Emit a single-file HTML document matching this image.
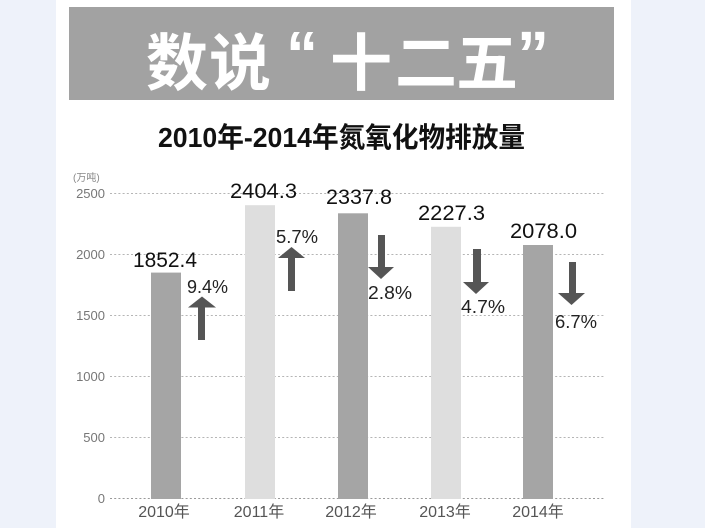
<!DOCTYPE html>
<html>
<head>
<meta charset="utf-8">
<style>
  html,body{margin:0;padding:0;background:#eef2fa;}
  svg{display:block;}
  .cjk{font-family:"Liberation Sans","Noto Sans CJK SC",sans-serif;}
</style>
</head>
<body>
<svg width="705" height="528" viewBox="0 0 705 528" xmlns="http://www.w3.org/2000/svg">
  <rect x="0" y="0" width="705" height="528" fill="#eef2fa"/>
  <rect x="56" y="0" width="575" height="528" fill="#ffffff"/>

  <!-- header -->
  <rect x="69" y="7" width="545" height="93" fill="#a2a2a2"/>
  <g fill="#ffffff" font-family="'Noto Sans CJK SC',sans-serif" font-weight="700" font-size="62" text-anchor="middle">
    <text x="177" y="85">数</text>
    <text x="240" y="85">说</text>
    <text x="361" y="85">十</text>
    <text x="426" y="85">二</text>
    <text x="487" y="85">五</text>
  </g>
  <g fill="#ffffff" font-family="'Liberation Sans',sans-serif" font-weight="700" font-size="64" text-anchor="middle">
    <text x="302" y="76">“</text>
    <text x="533" y="76">”</text>
  </g>

  <!-- subtitle -->
  <text x="158" y="147" class="cjk" font-size="28" font-weight="700" fill="#111" textLength="367" lengthAdjust="spacingAndGlyphs">2010年-2014年氮氧化物排放量</text>

  <!-- unit -->
  <text x="73" y="181" class="cjk" font-size="10" fill="#888">(万吨)</text>

  <!-- gridlines -->
  <g stroke="#b5b5b5" stroke-width="1" stroke-dasharray="2 2.2">
    <line x1="110" y1="193.5" x2="604" y2="193.5"/>
    <line x1="110" y1="254.5" x2="604" y2="254.5"/>
    <line x1="110" y1="315.5" x2="604" y2="315.5"/>
    <line x1="110" y1="376.5" x2="604" y2="376.5"/>
    <line x1="110" y1="437.5" x2="604" y2="437.5"/>
    <line x1="110" y1="498.5" x2="604" y2="498.5" stroke="#999"/>
  </g>

  <!-- y labels -->
  <g font-family="'Liberation Sans',sans-serif" font-size="13" fill="#777" text-anchor="end">
    <text x="105" y="198">2500</text>
    <text x="105" y="259">2000</text>
    <text x="105" y="320">1500</text>
    <text x="105" y="381">1000</text>
    <text x="105" y="442">500</text>
    <text x="105" y="503">0</text>
  </g>

  <!-- bars -->
  <rect x="151" y="272.6" width="30" height="226.4" fill="#a5a5a5"/>
  <rect x="245" y="205.2" width="30" height="293.8" fill="#dedede"/>
  <rect x="338" y="213.3" width="30" height="285.7" fill="#a5a5a5"/>
  <rect x="431" y="226.8" width="30" height="272.2" fill="#dedede"/>
  <rect x="523" y="245" width="30" height="254" fill="#a5a5a5"/>

  <!-- value labels -->
  <g font-family="'Liberation Sans',sans-serif" font-size="21" fill="#111" lengthAdjust="spacingAndGlyphs">
    <text x="133" y="267" textLength="64" lengthAdjust="spacingAndGlyphs">1852.4</text>
    <text x="230" y="198" textLength="67" lengthAdjust="spacingAndGlyphs">2404.3</text>
    <text x="326" y="204" textLength="66" lengthAdjust="spacingAndGlyphs">2337.8</text>
    <text x="418" y="220" textLength="67" lengthAdjust="spacingAndGlyphs">2227.3</text>
    <text x="510" y="238" textLength="67" lengthAdjust="spacingAndGlyphs">2078.0</text>
  </g>

  <!-- arrows -->
  <g fill="#555555">
    <rect x="198" y="306" width="7" height="34"/>
    <polygon points="188,307.5 216,307.5 202,296.5"/>
    <rect x="288" y="257" width="7" height="34"/>
    <polygon points="278,258 305,258 291.5,247"/>
    <rect x="378" y="235" width="7" height="33"/>
    <polygon points="368,267 394,267 381,279"/>
    <rect x="473" y="249" width="8" height="34"/>
    <polygon points="463,282 489,282 476,294"/>
    <rect x="569" y="262" width="7" height="32"/>
    <polygon points="558,293 585,293 571.5,305"/>
  </g>

  <!-- percent labels -->
  <g font-family="'Liberation Sans',sans-serif" font-size="18" fill="#222">
    <text x="187" y="293" textLength="41" lengthAdjust="spacingAndGlyphs">9.4%</text>
    <text x="276" y="243" textLength="42" lengthAdjust="spacingAndGlyphs">5.7%</text>
    <text x="368" y="299" textLength="44" lengthAdjust="spacingAndGlyphs">2.8%</text>
    <text x="461" y="313" textLength="44" lengthAdjust="spacingAndGlyphs">4.7%</text>
    <text x="555" y="328" textLength="42" lengthAdjust="spacingAndGlyphs">6.7%</text>
  </g>

  <!-- x labels -->
  <g class="cjk" font-size="16" fill="#555" text-anchor="middle">
    <text x="164" y="517">2010年</text>
    <text x="259" y="517">2011年</text>
    <text x="351" y="517">2012年</text>
    <text x="445" y="517">2013年</text>
    <text x="538" y="517">2014年</text>
  </g>
</svg>
</body>
</html>
